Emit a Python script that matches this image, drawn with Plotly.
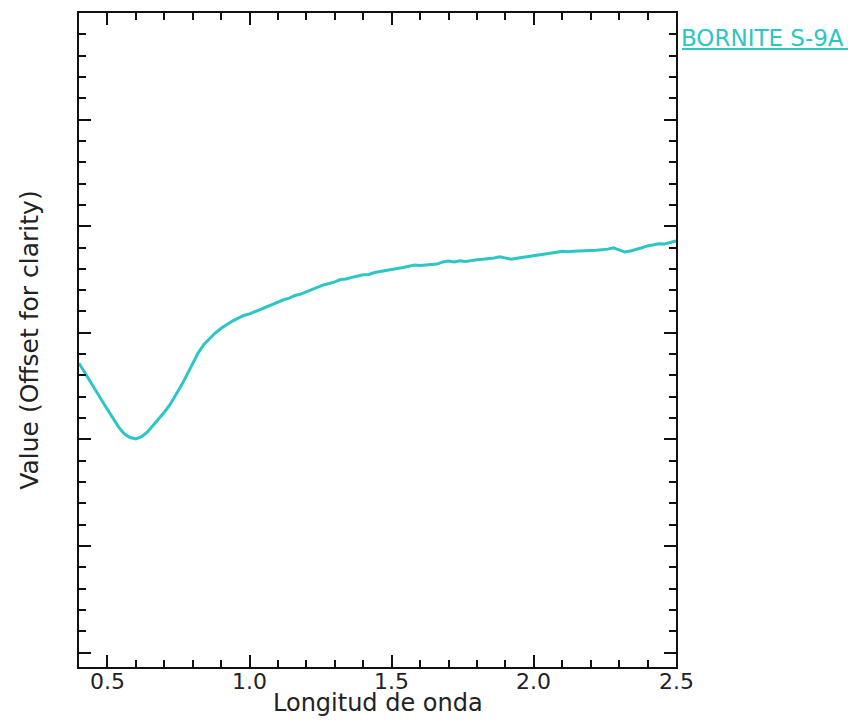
import plotly.graph_objects as go

# Bornite S-9A reflectance spectrum (wavelength in micrometres, offset value)
wavelength = [
    0.40, 0.42, 0.44, 0.46, 0.48, 0.50, 0.52, 0.54, 0.56, 0.58,
    0.60, 0.62, 0.64, 0.66, 0.68, 0.70, 0.72, 0.74, 0.76, 0.78,
    0.80, 0.82, 0.84, 0.86, 0.88, 0.90, 0.92, 0.94, 0.96, 0.98,
    1.00, 1.02, 1.04, 1.06, 1.08, 1.10, 1.12, 1.14, 1.16, 1.18,
    1.20, 1.22, 1.24, 1.26, 1.28, 1.30, 1.32, 1.34, 1.36, 1.38,
    1.40, 1.42, 1.44, 1.46, 1.48, 1.50, 1.52, 1.54, 1.56, 1.58,
    1.60, 1.62, 1.64, 1.66, 1.68, 1.70, 1.72, 1.74, 1.76, 1.78,
    1.80, 1.82, 1.84, 1.86, 1.88, 1.90, 1.92, 1.94, 1.96, 1.98,
    2.00, 2.02, 2.04, 2.06, 2.08, 2.10, 2.12, 2.14, 2.16, 2.18,
    2.20, 2.22, 2.24, 2.26, 2.28, 2.30, 2.32, 2.34, 2.36, 2.38,
    2.40, 2.42, 2.44, 2.46, 2.48, 2.50,
]
value = [
    0.1686, 0.1652, 0.1620, 0.1584, 0.1547, 0.1512, 0.1478, 0.1445, 0.1420, 0.1407,
    0.1402, 0.1410, 0.1427, 0.1451, 0.1475, 0.1502, 0.1530, 0.1564, 0.1602, 0.1643,
    0.1686, 0.1726, 0.1757, 0.1780, 0.1800, 0.1817, 0.1832, 0.1844, 0.1855, 0.1865,
    0.1871, 0.1880, 0.1887, 0.1897, 0.1907, 0.1913, 0.1924, 0.1930, 0.1940, 0.1945,
    0.1954, 0.1961, 0.1969, 0.1980, 0.1985, 0.1991, 0.2000, 0.2002, 0.2008, 0.2012,
    0.2018, 0.2019, 0.2026, 0.2030, 0.2033, 0.2038, 0.2041, 0.2045, 0.2049, 0.2054,
    0.2053, 0.2055, 0.2057, 0.2058, 0.2066, 0.2069, 0.2066, 0.2070, 0.2068, 0.2072,
    0.2074, 0.2076, 0.2078, 0.2081, 0.2085, 0.2081, 0.2076, 0.2080, 0.2083, 0.2085,
    0.2088, 0.2091, 0.2095, 0.2098, 0.2102, 0.2106, 0.2104, 0.2106, 0.2107, 0.2106,
    0.2109, 0.2110, 0.2112, 0.2114, 0.2119, 0.2111, 0.2103, 0.2107, 0.2112, 0.2119,
    0.2126, 0.2130, 0.2134, 0.2133, 0.2139, 0.2145,
]

x_ticks = [0.5, 1.0, 1.5, 2.0, 2.5]
x_tick_labels = ["0.5", "1.0", "1.5", "2.0", "2.5"]
x_title = "Longitud de onda"
y_title = "Value (Offset for clarity)"
sample_name = "BORNITE S-9A"

CYAN = "#2cc6c6"
AXIS = "#111111"
TEXT = "#222222"
FONT = "DejaVu Sans"

x_range = [0.4, 2.5]

fig = go.Figure()
# spectrum drawn on the tick-carrying x axis (x2), which is locked to x
fig.add_trace(go.Scatter(
    x=wavelength, y=value, mode="lines", xaxis="x2", yaxis="y",
    line=dict(color=CYAN, width=3),
    showlegend=False, hoverinfo="skip",
))

fig.update_layout(
    xaxis=dict(
        range=x_range, showticklabels=False, ticks="", showline=False,
        showgrid=False, zeroline=False, automargin=False,
    ),
    # frame and tick marks on top and bottom
    xaxis2=dict(
        range=x_range, matches="x", overlaying="x", anchor="y", side="bottom",
        tickmode="linear", tick0=0.5, dtick=0.5, showticklabels=False,
        showline=True, linecolor=AXIS, linewidth=2, mirror="allticks",
        ticks="inside", ticklen=12, tickwidth=2, tickcolor=AXIS,
        showgrid=False, zeroline=False, automargin=False,
        minor=dict(dtick=0.1, tick0=0.4, ticks="inside", ticklen=7, tickwidth=2,
                   tickcolor=AXIS, showgrid=False),
    ),
    yaxis=dict(
        range=[0.0546, 0.30], tickmode="linear", tick0=0.06, dtick=0.04, showticklabels=False,
        showline=True, linecolor=AXIS, linewidth=2, mirror="allticks",
        ticks="inside", ticklen=12, tickwidth=2, tickcolor=AXIS,
        showgrid=False, zeroline=False, automargin=False,
        minor=dict(dtick=0.008, tick0=0.06, ticks="inside", ticklen=7, tickwidth=2,
                   tickcolor=AXIS, showgrid=False),
        title=dict(text=y_title, font=dict(family=FONT, size=25, color=TEXT), standoff=31),
    ),
    width=848, height=721,
    margin=dict(l=79, r=172, t=13, b=54),
    paper_bgcolor="white", plot_bgcolor="white",
)

# wavelength numbers under the bottom axis, at their fraction of the x range
for xv, label in zip(x_ticks, x_tick_labels):
    fig.add_annotation(
        x=(xv - x_range[0]) / (x_range[1] - x_range[0]), xref="paper", xanchor="center",
        y=0, yref="paper", yanchor="top", yshift=0,
        text=label, showarrow=False,
        font=dict(family=FONT, size=22, color=TEXT),
    )

# x-axis title
fig.add_annotation(
    x=0.5, xref="paper", xanchor="center",
    y=0, yref="paper", yanchor="top", yshift=-20,
    text=x_title, showarrow=False,
    font=dict(family=FONT, size=24, color=TEXT),
)

fig.add_annotation(
    x=1, xref="paper", xanchor="left", xshift=3,
    y=0.962, yref="paper", yanchor="middle",
    text=sample_name, showarrow=False,
    font=dict(family=FONT, size=23, color=CYAN),
)
fig.add_shape(
    type="line", xref="paper", yref="paper",
    x0=1.010, x1=1.3, y0=0.945, y1=0.945,
    line=dict(color=CYAN, width=2),
)

fig.write_html("out.html")
